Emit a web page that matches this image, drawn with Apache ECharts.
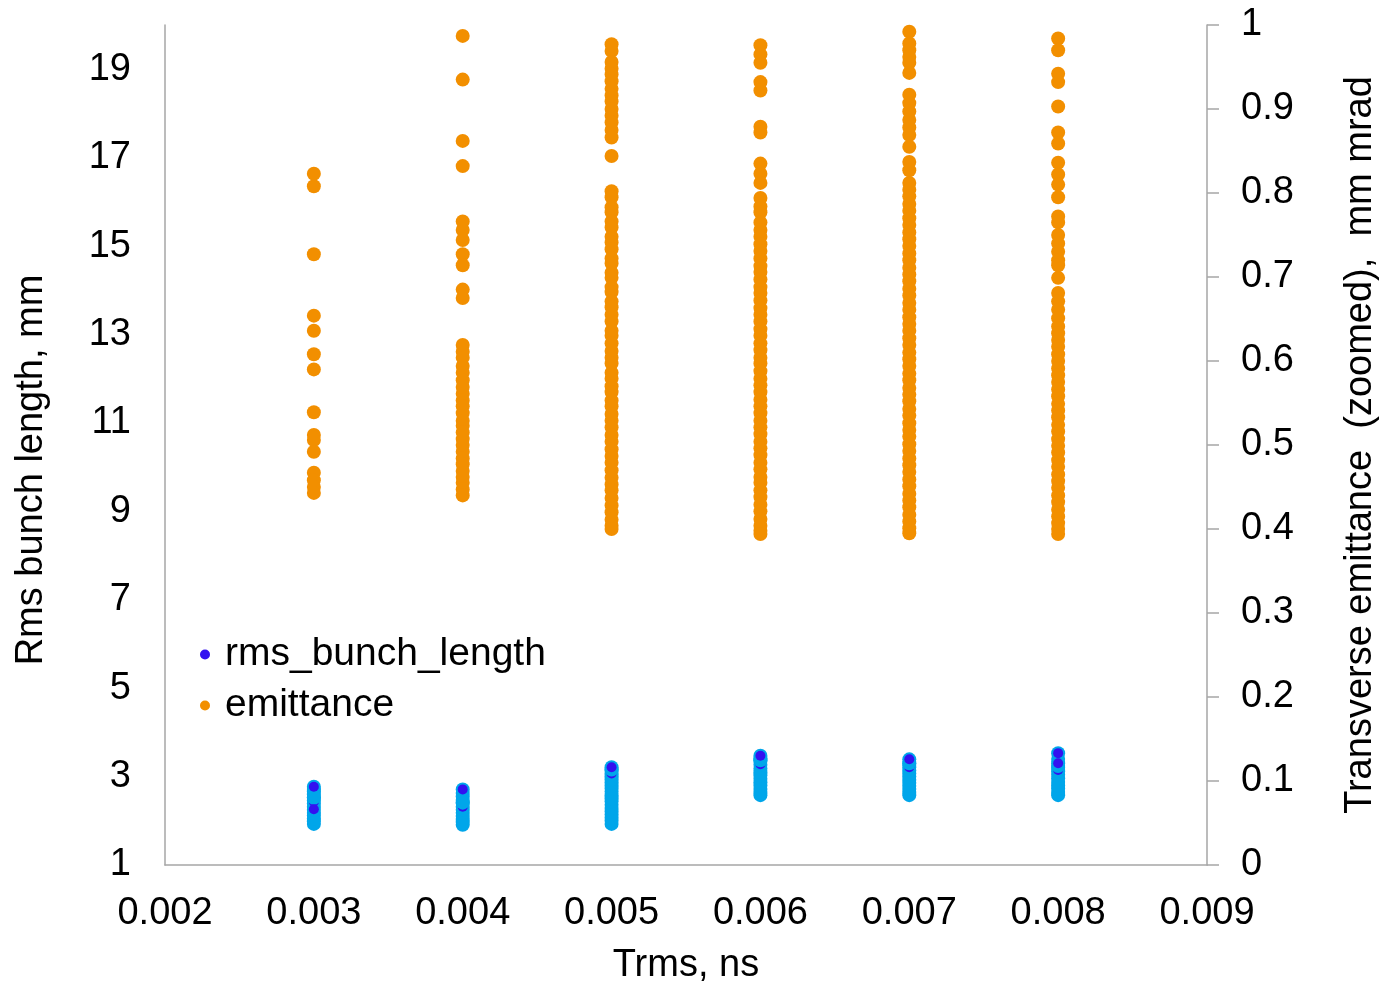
<!DOCTYPE html>
<html>
<head>
<meta charset="utf-8">
<title>Rms bunch length and transverse emittance vs Trms</title>
<script src="https://cdn.jsdelivr.net/npm/echarts@6/dist/echarts.min.js"></script>
<style>
  html, body { margin: 0; padding: 0; background: #ffffff; }
  #chart { width: 1381px; height: 983px; }
</style>
</head>
<body>
<div id="chart"></div>
<script>
// Trms scan points, ns
const trms = [0.003, 0.004, 0.005, 0.006, 0.007, 0.008];

// Transverse emittance (mm mrad) found at each Trms
const emit0003 = [0.823, 0.808, 0.727, 0.654, 0.636, 0.608, 0.590, 0.539, 0.512, 0.506, 0.492, 0.467, 0.458, 0.450, 0.443];
const emit0004 = [0.987, 0.935, 0.862, 0.832, 0.766, 0.756, 0.744, 0.727, 0.714, 0.685, 0.675,
  0.619, 0.611, 0.604, 0.594, 0.586, 0.577, 0.569, 0.561, 0.553, 0.546, 0.538, 0.529, 0.523, 0.515,
  0.507, 0.500, 0.492, 0.484, 0.477, 0.469, 0.462, 0.455, 0.447, 0.440];
const emit0005 = [0.977, 0.969, 0.956, 0.948, 0.941, 0.933, 0.924, 0.916, 0.909, 0.900, 0.892, 0.884, 0.875, 0.866, 0.844,
  0.802, 0.795, 0.783, 0.777, 0.766, 0.759, 0.748, 0.741, 0.733, 0.722, 0.716, 0.705, 0.699, 0.688, 0.682,
  0.671, 0.664, 0.655, 0.647, 0.636, 0.630, 0.621, 0.612, 0.604, 0.597, 0.586, 0.579, 0.570, 0.563, 0.553,
  0.546, 0.537, 0.529, 0.521, 0.512, 0.504, 0.495, 0.487, 0.479, 0.470, 0.461, 0.453, 0.446, 0.437, 0.428,
  0.420, 0.411, 0.404, 0.400];
const emit0006 = [0.976, 0.965, 0.955, 0.932, 0.922, 0.879, 0.872, 0.835, 0.823, 0.812, 0.794, 0.784, 0.777, 0.765,
  0.756, 0.748, 0.739, 0.731, 0.722, 0.713, 0.706, 0.697, 0.688, 0.681, 0.672, 0.663, 0.655, 0.647, 0.638,
  0.630, 0.621, 0.613, 0.604, 0.597, 0.588, 0.579, 0.571, 0.563, 0.554, 0.546, 0.538, 0.529, 0.521, 0.513,
  0.504, 0.496, 0.488, 0.479, 0.471, 0.462, 0.455, 0.446, 0.438, 0.429, 0.421, 0.412, 0.404, 0.398, 0.394];
const emit0007 = [0.992, 0.978, 0.970, 0.962, 0.955, 0.943, 0.917, 0.907, 0.897, 0.887, 0.878, 0.869, 0.855, 0.837, 0.827,
  0.812, 0.804, 0.796, 0.787, 0.779, 0.770, 0.762, 0.753, 0.745, 0.737, 0.728, 0.720, 0.711, 0.703, 0.695,
  0.686, 0.678, 0.669, 0.661, 0.652, 0.644, 0.636, 0.627, 0.619, 0.610, 0.602, 0.594, 0.585, 0.577, 0.568,
  0.560, 0.552, 0.543, 0.535, 0.526, 0.518, 0.510, 0.501, 0.493, 0.484, 0.476, 0.468, 0.459, 0.451, 0.442,
  0.434, 0.426, 0.417, 0.409, 0.401, 0.395];
const emit0008 = [0.984, 0.970, 0.942, 0.932, 0.903, 0.872, 0.859, 0.836, 0.822, 0.810, 0.795, 0.772, 0.765,
  0.750, 0.740, 0.730, 0.720, 0.714, 0.699, 0.681, 0.671, 0.661, 0.651, 0.641, 0.633,
  0.625, 0.617, 0.608, 0.600, 0.591, 0.583, 0.575, 0.566, 0.558, 0.549, 0.541, 0.533, 0.524, 0.516,
  0.507, 0.499, 0.491, 0.482, 0.474, 0.465, 0.457, 0.449, 0.440, 0.432, 0.423, 0.415, 0.407, 0.400, 0.394];
const emittance = [emit0003, emit0004, emit0005, emit0006, emit0007, emit0008];

// Rms bunch length (mm) at each Trms, drawn light blue
const len0003 = [1.93, 1.99, 2.05, 2.12, 2.18, 2.25, 2.32, 2.39, 2.46, 2.53, 2.60, 2.67, 2.77];
const len0004 = [1.91, 1.97, 2.04, 2.11, 2.18, 2.25, 2.32, 2.40, 2.47, 2.55, 2.63, 2.71];
const len0005 = [1.93, 2.00, 2.07, 2.14, 2.21, 2.29, 2.36, 2.44, 2.51, 2.58, 2.66, 2.73, 2.80, 2.87, 2.94, 3.01, 3.07, 3.14, 3.21];
const len0006 = [2.58, 2.65, 2.72, 2.80, 2.87, 2.95, 3.03, 3.10, 3.18, 3.27, 3.35, 3.41, 3.47];
const len0007 = [2.58, 2.65, 2.72, 2.79, 2.86, 2.93, 3.00, 3.07, 3.14, 3.21, 3.29, 3.39];
const len0008 = [2.58, 2.65, 2.73, 2.80, 2.88, 2.96, 3.04, 3.12, 3.20, 3.30, 3.40, 3.53];
const bunchLength = [len0003, len0004, len0005, len0006, len0007, len0008];

// Rms bunch length points that sit under later light-blue points (one list per Trms)
const markedLow = [[2.63, 2.43], [2.32], [3.07], [3.28], [3.21], [3.15]];
// light-blue points drawn over them
const coverPoints = [[2.72, 2.52], [2.41], [3.16], [3.37], [3.30], [3.24]];
// Rms bunch length points drawn on top of everything (dark blue)
const markedTop = [[2.77, 2.26], [2.71], [3.21], [3.47], [3.39], [3.53, 3.30]];

// Axis tick settings
const xTicks = { min: 0.002, max: 0.009, step: 0.001 };
const leftTicks = { min: 1, max: 20, step: 2 };
const rightTicks = { min: 0, max: 1, step: 0.1 };

function pairs(lists) {
  const out = [];
  lists.forEach((list, i) => list.forEach(v => out.push([trms[i], v])));
  return out;
}

const FONT = "'Liberation Sans', Arial, Helvetica, sans-serif";
const LIGHT_BLUE = '#00a6ea';
const DARK_BLUE = '#3311f0';
const ORANGE = '#f28f00';
const AXIS_GRAY = '#a6a6a6';

const chart = echarts.init(document.getElementById('chart'), null, { renderer: 'canvas' });

chart.setOption({
  backgroundColor: '#ffffff',
  animation: false,
  textStyle: { fontFamily: FONT, color: '#000' },
  grid: { left: 165, right: 174, top: 25, bottom: 118, containLabel: false, outerBoundsMode: 'none' },
  legend: {
    data: [
      { name: 'rms_bunch_length', icon: 'circle' },
      { name: 'emittance', icon: 'circle' }
    ],
    orient: 'vertical',
    left: 195,
    top: 630,
    itemWidth: 30,
    itemHeight: 10,
    itemGap: 12,
    textStyle: { fontFamily: FONT, fontSize: 39, color: '#000' }
  },
  xAxis: {
    type: 'value',
    min: xTicks.min,
    max: xTicks.max,
    interval: xTicks.step,
    name: 'Trms, ns',
    nameLocation: 'middle',
    nameGap: 82,
    nameTextStyle: { fontFamily: FONT, fontSize: 38, color: '#000' },
    axisLine: { show: true, onZero: false, lineStyle: { color: AXIS_GRAY, width: 1.5 } },
    axisTick: { show: false },
    splitLine: { show: false },
    axisLabel: {
      fontFamily: FONT, fontSize: 38, color: '#000', margin: 30,
      formatter: v => v.toFixed(3)
    }
  },
  yAxis: [
    {
      type: 'value',
      position: 'left',
      min: leftTicks.min,
      max: leftTicks.max,
      interval: leftTicks.step,
      name: 'Rms bunch length, mm',
      nameLocation: 'middle',
      nameRotate: 90,
      nameGap: 114,
      nameTextStyle: { fontFamily: FONT, fontSize: 38, color: '#000', padding: [0, 50, 0, 0] },
      axisLine: { show: true, onZero: false, lineStyle: { color: AXIS_GRAY, width: 1.5 } },
      axisTick: { show: false },
      splitLine: { show: false },
      axisLabel: { fontFamily: FONT, fontSize: 38, color: '#000', margin: 34, showMaxLabel: false }
    },
    {
      type: 'value',
      position: 'right',
      min: rightTicks.min,
      max: rightTicks.max,
      interval: rightTicks.step,
      name: 'Transverse emittance  (zoomed),  mm mrad',
      nameLocation: 'middle',
      nameRotate: 90,
      nameGap: 135,
      nameTextStyle: { fontFamily: FONT, fontSize: 38, color: '#000' },
      axisLine: { show: true, onZero: false, lineStyle: { color: AXIS_GRAY, width: 1.5 } },
      axisTick: { show: true, inside: false, length: 12, lineStyle: { color: AXIS_GRAY, width: 1.5 } },
      splitLine: { show: false },
      axisLabel: {
        fontFamily: FONT, fontSize: 38, color: '#000', margin: 34,
        formatter: v => (Math.abs(v) < 1e-9 ? '0' : Math.abs(v - 1) < 1e-9 ? '1' : v.toFixed(1))
      }
    }
  ],
  series: [
    {
      name: 'bunch length (light)',
      type: 'scatter',
      yAxisIndex: 0,
      symbol: 'circle',
      symbolSize: 14,
      z: 2,
      itemStyle: { color: LIGHT_BLUE, opacity: 1 },
      data: pairs(bunchLength)
    },
    {
      name: 'bunch length (marked, low)',
      type: 'scatter',
      yAxisIndex: 0,
      symbol: 'circle',
      symbolSize: 10,
      z: 3,
      itemStyle: { color: DARK_BLUE, opacity: 1 },
      data: pairs(markedLow)
    },
    {
      name: 'bunch length (cover)',
      type: 'scatter',
      yAxisIndex: 0,
      symbol: 'circle',
      symbolSize: 14,
      z: 4,
      itemStyle: { color: LIGHT_BLUE, opacity: 1 },
      data: pairs(coverPoints)
    },
    {
      name: 'rms_bunch_length',
      type: 'scatter',
      yAxisIndex: 0,
      symbol: 'circle',
      symbolSize: 10,
      z: 5,
      itemStyle: { color: DARK_BLUE, opacity: 1 },
      data: pairs(markedTop)
    },
    {
      name: 'emittance',
      type: 'scatter',
      yAxisIndex: 1,
      symbol: 'circle',
      symbolSize: 14,
      z: 2,
      itemStyle: { color: ORANGE, opacity: 1 },
      data: pairs(emittance)
    }
  ]
});
</script>
</body>
</html>
